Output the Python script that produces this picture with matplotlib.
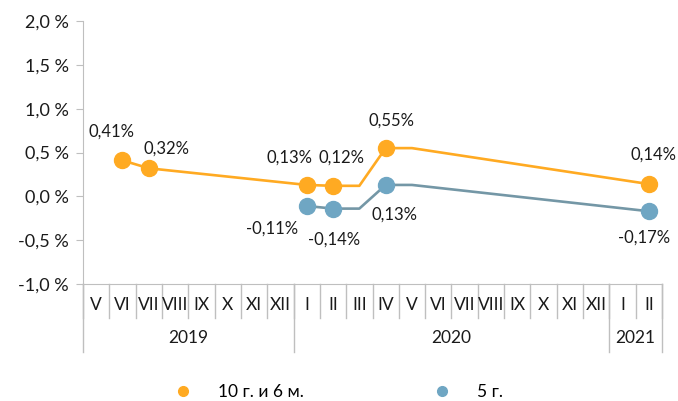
import numpy as np
import matplotlib.pyplot as plt
from matplotlib.lines import Line2D

plt.rcParams['font.family'] = ['Lato', 'DejaVu Sans']

# ------------- данные -------------------
months = ["V", "VI", "VII", "VIII", "IX", "X", "XI", "XII",
          "I", "II", "III", "IV", "V", "VI", "VII", "VIII", "IX", "X", "XI", "XII",
          "I", "II"]
years = ["2019", "2020", "2021"]
year_len = [8, 12, 2]

nan = np.nan
s10 = [nan, 0.41, 0.32, nan, nan, nan, nan, nan,
       0.13, 0.12, 0.12, 0.55, 0.55, nan, nan, nan, nan, nan, nan, nan,
       nan, 0.14]
s5 = [nan, nan, nan, nan, nan, nan, nan, nan,
      -0.11, -0.14, -0.14, 0.13, 0.13, nan, nan, nan, nan, nan, nan, nan,
      nan, -0.17]
# точки с маркером и подписью
mark10 = [1, 2, 8, 9, 11, 21]
mark5 = [8, 9, 11, 21]
# смещения подписей (px)
off10 = [(-11, 29), (18, 20), (-17, 27), (8, 28), (6, 27), (5, 29)]
off5 = [(-35, -23), (1, -31), (9, -30), (-5, -26)]

c10 = "#FFAA22"
c5 = "#6FA6C3"
c5_line = "#7497A6"
grey = "#BFBFBF"
tcol = "#1A1A1A"

# ------------- график -------------------
fig = plt.figure(figsize=(6.78, 4.01), dpi=100)
ax = fig.add_axes([83/678, 1-284/401, (662-83)/678, (284-21)/401])

x = np.arange(len(months))

def plot_series(vals, marks, offs, line_color, mcolor):
    v = np.array(vals)
    ok = ~np.isnan(v)
    ax.plot(x[ok], v[ok], color=line_color, lw=1.9, zorder=2)
    ax.plot(x[marks], v[marks], ls="none", marker="o", ms=11.5,
            color=mcolor, zorder=3)
    for i, (dx, dy) in zip(marks, offs):
        txt = "{:.2f}%".format(v[i]).replace(".", ",")
        ax.annotate(txt, (x[i], v[i]), xytext=(dx, dy), textcoords="offset pixels",
                    ha="center", va="center", fontsize=12, color=tcol)

plot_series(s10, mark10, off10, c10, c10)
plot_series(s5, mark5, off5, c5_line, c5)

ax.set_xlim(-0.5, len(months) - 0.5)
ax.set_ylim(-1.0, 2.0)
ax.set_yticks(np.arange(-1.0, 2.01, 0.5))
ax.set_yticklabels(["{:.1f} %".format(t).replace(".", ",") for t in np.arange(-1.0, 2.01, 0.5)],
                   fontsize=13, color=tcol)
ax.tick_params(axis="y", length=5, color=grey, pad=5)
ax.set_xticks([])
for s in ["top", "right"]:
    ax.spines[s].set_visible(False)
ax.spines["left"].set_color(grey)
ax.spines["bottom"].set_color(grey)

# подписи месяцев и лет
tr = ax.get_xaxis_transform()
for i, m in enumerate(months):
    ax.text(i, -0.078, m, transform=tr, ha="center", va="center",
            fontsize=12.5, color=tcol)
for b in range(len(months) + 1):
    ax.plot([b - 0.5, b - 0.5], [0, -0.13], transform=tr, color=grey,
            lw=1, clip_on=False)
start = 0
for yname, n in zip(years, year_len):
    ax.plot([start - 0.5, start - 0.5], [0, -0.26], transform=tr, color=grey,
            lw=1, clip_on=False)
    ax.text(start + n / 2 - 0.5, -0.205, yname, transform=tr, ha="center",
            va="center", fontsize=12.5, color=tcol)
    start += n
ax.plot([start - 0.5, start - 0.5], [0, -0.26], transform=tr, color=grey,
        lw=1, clip_on=False)

# легенда
handles = [Line2D([], [], ls="none", marker="o", ms=7, color=c10),
           Line2D([], [], ls="none", marker="o", ms=7, color=c5)]
fig.legend(handles, ["10 г. и 6 м.", "5 г."], ncol=2, frameon=False,
           loc="center", bbox_to_anchor=(0.493, 1 - 392/401), fontsize=12.5,
           columnspacing=7.0, handletextpad=1.0)

fig.savefig("out.png", dpi=100)
